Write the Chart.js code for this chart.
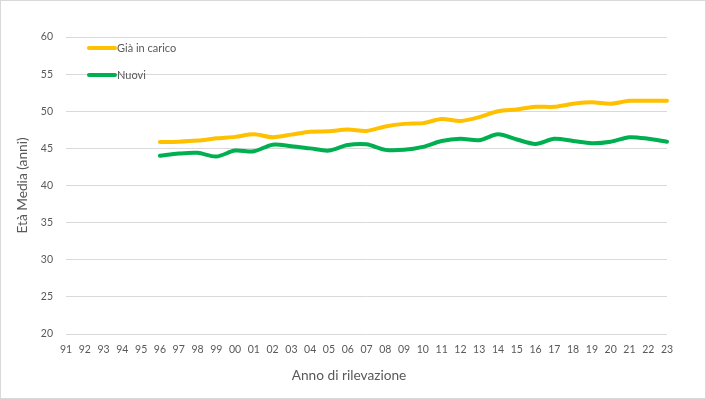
<!DOCTYPE html>
<html>
<head>
<meta charset="utf-8">
<script src="https://cdn.jsdelivr.net/npm/chart.js@4.4.1/dist/chart.umd.min.js"></script>
<style>
  html, body { margin: 0; padding: 0; background: #fff; }
  .chart-wrap { position: relative; width: 706px; height: 399px; box-sizing: border-box; border: 1px solid #d9d9d9; }
</style>
</head>
<body>
<div class="chart-wrap"><canvas id="age-chart"></canvas></div>
<script>
// --- Data ---
const years = ['91', '92', '93', '94', '95', '96', '97', '98', '99', '00', '01', '02', '03', '04', '05', '06',
               '07', '08', '09', '10', '11', '12', '13', '14', '15', '16', '17', '18', '19', '20', '21', '22', '23'];
const giaInCarico = [null, null, null, null, null, 45.85, 45.9, 46.05, 46.35, 46.55, 46.9, 46.5, 46.85, 47.25, 47.3, 47.55,
                     47.35, 47.95, 48.3, 48.4, 48.95, 48.7, 49.2, 50.0, 50.25, 50.6, 50.6, 51.0, 51.2, 51.0, 51.4, 51.4, 51.4];
const nuovi = [null, null, null, null, null, 44.0, 44.3, 44.4, 43.9, 44.7, 44.6, 45.5, 45.3, 45.0, 44.7, 45.45,
               45.55, 44.8, 44.8, 45.2, 46.0, 46.3, 46.1, 46.9, 46.2, 45.6, 46.3, 46.0, 45.7, 45.9, 46.5, 46.3, 45.9];
const yTicks = [20, 25, 30, 35, 40, 45, 50, 55, 60];
const xTitle = 'Anno di rilevazione';

const TEXT = '#595959';
const GRID = '#d9d9d9';
const FONT = 'Lato, "Open Sans", sans-serif';

// --- Legend drawn inside the plot (top-left, stacked) + x-axis title ---
const extras = {
  id: 'extras',
  afterDraw(chart) {
    const ctx = chart.ctx;
    ctx.save();
    ctx.font = '11px ' + FONT;
    ctx.textBaseline = 'middle';
    chart.data.datasets.forEach((ds, i) => {
      const y = 47 + i * 27;
      ctx.strokeStyle = ds.borderColor;
      ctx.lineWidth = 4;
      ctx.lineCap = 'round';
      ctx.beginPath(); ctx.moveTo(88, y); ctx.lineTo(114, y); ctx.stroke();
      ctx.fillStyle = TEXT;
      ctx.fillText(ds.label, 116, y);
    });
    // x-axis title, a little left of the plot centre as in the original
    ctx.font = '13.7px ' + FONT;
    ctx.textAlign = 'center';
    ctx.fillText(xTitle, 348, 375);
    ctx.restore();
  }
};

new Chart(document.getElementById('age-chart').getContext('2d'), {
  type: 'line',
  data: {
    labels: years,
    datasets: [
      { label: 'Già in carico', data: giaInCarico, borderColor: '#FFC000', backgroundColor: '#FFC000',
        borderWidth: 4, pointRadius: 0, tension: 0.3, borderCapStyle: 'round', borderJoinStyle: 'round' },
      { label: 'Nuovi', data: nuovi, borderColor: '#00B050', backgroundColor: '#00B050',
        borderWidth: 4, pointRadius: 0, tension: 0.3, borderCapStyle: 'round', borderJoinStyle: 'round' }
    ]
  },
  options: {
    responsive: true, maintainAspectRatio: false, animation: false,
    layout: { padding: { top: 36, right: 38, bottom: 0, left: 0 } },
    plugins: { legend: { display: false }, tooltip: { enabled: false } },
    scales: {
      x: {
        grid: { display: false, drawTicks: false },
        border: { display: false },
        ticks: { color: TEXT, font: { family: FONT, size: 10.5 }, padding: 9, maxRotation: 0, autoSkip: false },
        afterFit: s => { s.height = 64; }
      },
      y: {
        min: 20, max: 60,
        afterBuildTicks: s => { s.ticks = yTicks.map(v => ({ value: v })); },
        grid: { color: GRID, drawTicks: false },
        border: { display: false },
        ticks: { color: TEXT, font: { family: FONT, size: 10.5 }, padding: 13 },
        title: { display: true, text: 'Età Media (anni)', color: TEXT, font: { family: FONT, size: 13.7 }, padding: { top: 13, bottom: 0 } },
        afterFit: s => { s.width = 65; }
      }
    }
  },
  plugins: [extras]
});
</script>
</body>
</html>
